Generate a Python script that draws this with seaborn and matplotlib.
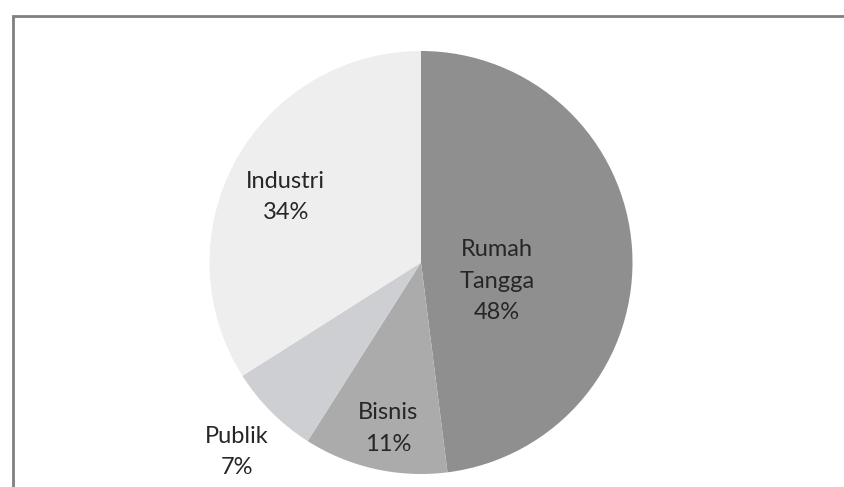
import matplotlib
matplotlib.use("Agg")
import matplotlib.pyplot as plt
import seaborn as sns
import numpy as np
from matplotlib.patches import Rectangle

categories = ["Rumah\nTangga", "Bisnis", "Publik", "Industri"]
values = [48, 11, 7, 34]
colors = ["#8f8f8f", "#ababab", "#cdcfd2", "#eeeeef"]
label_dist = [0.37, 0.80, 1.25, 0.71]
label_shift = [-17.3, 1.4, 0.9, 3.0]  # degrees

sns.set_theme(style="white")
plt.rcParams["font.family"] = ["Lato", "DejaVu Sans"]

W, H = 844, 487
fig = plt.figure(figsize=(W / 100, H / 100), dpi=100)
fig.patch.set_facecolor("white")

cx, cy, R = 421, 262.5, 211.5
ax = fig.add_axes([(cx - R) / W, (H - cy - R) / H, 2 * R / W, 2 * R / H])
wedges, _ = ax.pie(values, colors=colors, startangle=90, counterclock=False,
                   radius=1.0, wedgeprops=dict(linewidth=0))
ax.set_xlim(-1, 1)
ax.set_ylim(-1, 1)
ax.set_aspect("equal")

total = sum(values)
for w, cat, v, d, s in zip(wedges, categories, values, label_dist, label_shift):
    mid = np.deg2rad((w.theta1 + w.theta2) / 2 + s)
    x, y = d * np.cos(mid), d * np.sin(mid)
    ax.text(x, y, f"{cat}\n{round(100 * v / total)}%", ha="center", va="center",
            fontsize=17, color="#262626", linespacing=1.6)

# outer chart frame (cut off at right/bottom in the scan)
fig.add_artist(Rectangle((13 / W, -0.05), 1.2, (H - 16) / H + 0.05,
                         transform=fig.transFigure, fill=False,
                         edgecolor="#808080", linewidth=2.0))

fig.savefig("out.png", dpi=100, facecolor="white")
